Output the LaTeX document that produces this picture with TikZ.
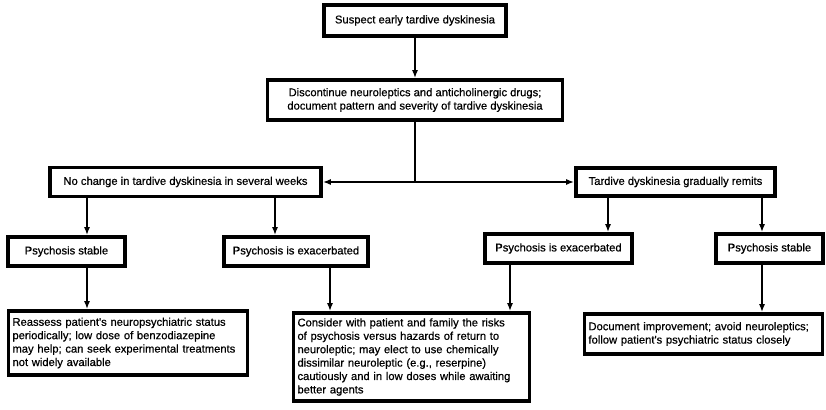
\documentclass[tikz,border=0pt]{standalone}
\usepackage{fontspec}
\setmainfont{Liberation Sans}
\newfontfamily\chartfont{Liberation Sans}[FakeBold=0.6]
\usetikzlibrary{arrows.meta}

\begin{document}
\begin{tikzpicture}[
  x=1pt, y=-1pt,
  block/.style={rectangle, draw, line width=3.6pt, inner sep=4pt, align=center, font=\chartfont\fontsize{11.2}{13.4}\selectfont},
  textblock/.style={block, align=left},
  arrow/.style={-{Latex[length=8pt,width=6pt]}, line width=2pt}
]
\useasboundingbox (0,0) rectangle (826,409);

% Start
\node[block, minimum width=182pt, minimum height=31pt] (suspect) at (415,20.5) {Suspect early tardive dyskinesia};
\node[block, minimum width=295pt, minimum height=40pt] (stop) at (415,100) {Discontinue neuroleptics and anticholinergic drugs;\\document pattern and severity of tardive dyskinesia};

% Outcome of withdrawal
\node[block, minimum width=271pt, minimum height=29pt] (nochange) at (185.5,182) {No change in tardive dyskinesia in several weeks};
\node[block, minimum width=199pt, minimum height=28pt] (remits) at (675.5,182) {Tardive dyskinesia gradually remits};

% Psychosis
\node[block, minimum width=117pt, minimum height=29pt] (stableL) at (66.5,251.5) {Psychosis stable};
\node[block, minimum width=144pt, minimum height=29pt] (worseL) at (296,251.5) {Psychosis is exacerbated};
\node[block, minimum width=147pt, minimum height=29pt] (worseR) at (558.5,248.5) {Psychosis is exacerbated};
\node[block, minimum width=107pt, minimum height=29pt] (stableR) at (769.5,248.5) {Psychosis stable};

% Management
\node[textblock, text width=231pt, minimum height=64pt] (reassess) at (128,343) {Reassess patient's neuropsychiatric status\\periodically; low dose of benzodiazepine\\may help; can seek experimental treatments\\not widely available};
\node[textblock, text width=228pt, minimum height=88pt] (consider) at (411.5,357) {Consider with patient and family the risks\\of psychosis versus hazards of return to\\neuroleptic; may elect to use chemically\\dissimilar neuroleptic (e.g., reserpine)\\cautiously and in low doses while awaiting\\better agents};
\node[textblock, text width=230pt, minimum height=40pt] (improve) at (703.5,334) {Document improvement; avoid neuroleptics;\\follow patient's psychiatric status closely};

% Arrow columns
\coordinate (xa) at (87,0);
\coordinate (xb) at (275,0);
\coordinate (xc) at (330,0);
\coordinate (xd) at (510,0);
\coordinate (xe) at (608,0);
\coordinate (xf) at (762,0);

% Arrows
\draw[arrow] (suspect) -- (stop);
\draw[arrow] (stop.south) |- (nochange.east);
\draw[arrow] (stop.south) |- (remits.west);
\draw[arrow] (nochange.south -| xa) -- (stableL.north -| xa);
\draw[arrow] (nochange.south -| xb) -- (worseL.north -| xb);
\draw[arrow] (remits.south -| xe) -- (worseR.north -| xe);
\draw[arrow] (remits.south -| xf) -- (stableR.north -| xf);
\draw[arrow] (stableL.south -| xa) -- (reassess.north -| xa);
\draw[arrow] (worseL.south -| xc) -- (consider.north -| xc);
\draw[arrow] (worseR.south -| xd) -- (consider.north -| xd);
\draw[arrow] (stableR.south -| xf) -- (improve.north -| xf);

\end{tikzpicture}
\end{document}
